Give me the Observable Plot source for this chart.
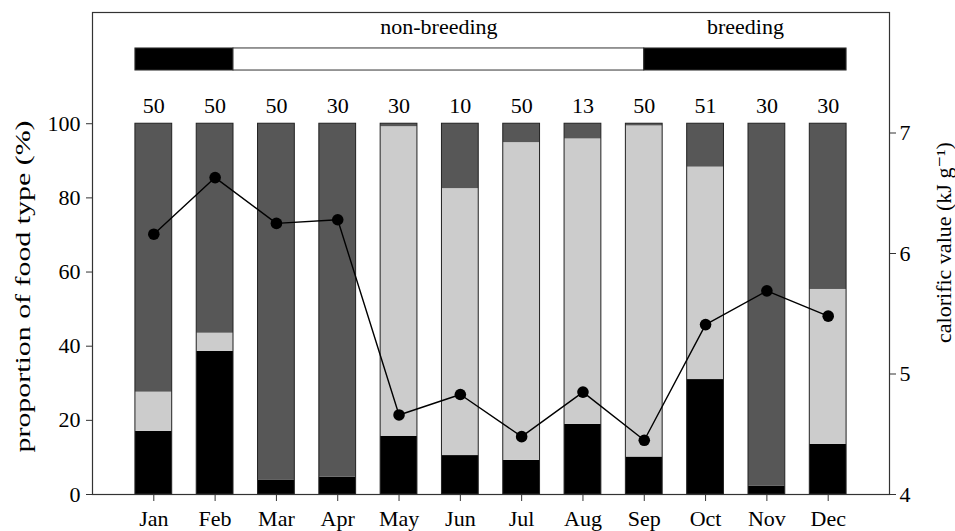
<!DOCTYPE html>
<html><head><meta charset="utf-8">
<script src="https://cdn.jsdelivr.net/npm/d3@7"></script>
<script src="https://cdn.jsdelivr.net/npm/@observablehq/plot@0.6"></script>
<style>
body{margin:0;background:#fff}
#chart svg, #chart svg text {font-family: "Liberation Serif", "DejaVu Serif", serif !important;}
#chart svg {font-size: 22px;}
</style>
</head><body><div id="chart"></div>
<script>
// ---- data ----
const months = ["Jan","Feb","Mar","Apr","May","Jun","Jul","Aug","Sep","Oct","Nov","Dec"];
const sampleSizes = [50, 50, 50, 30, 30, 10, 50, 13, 50, 51, 30, 30];
// proportion of food type (%) – three stacked categories
const blackShare = [17.0, 38.6, 3.8, 4.7, 15.7, 10.5, 9.2, 18.9, 10.1, 31.0, 2.2, 13.5];
const lightShare = [10.6, 4.9, 0.0, 0.0, 83.5, 72.0, 85.7, 77.0, 89.3, 57.3, 0.0, 41.8];
const darkShare  = [72.4, 56.5, 96.2, 95.3, 0.8, 17.5, 5.1, 4.1, 0.6, 11.7, 97.8, 44.7];
// calorific value (kJ g-1)
const calorific = [6.16, 6.63, 6.25, 6.28, 4.66, 4.83, 4.48, 4.85, 4.45, 5.41, 5.69, 5.48];
// season bar (month-index positions)
const seasonStart = [-0.3, 1.3, 8];
const seasonEnd   = [1.3, 8, 11.3];
const seasonName  = ["breeding", "non-breeding", "breeding"];
const seasonLabel = ["", "non-breeding", "breeding"];
const leftTicks = [0, 20, 40, 60, 80, 100];
const rightTicks = [4, 5, 6, 7];
const leftTitle = "proportion of food type (%)";
const rightTitle = "calorific value (kJ g\u207B\u00B9)";

// ---- build tables ----
const idx = d3.range(months.length);
const bars = idx.map(i => ({
  i,
  b0: 0, b1: blackShare[i],
  l0: blackShare[i], l1: blackShare[i] + lightShare[i],
  d0: blackShare[i] + lightShare[i], d1: blackShare[i] + lightShare[i] + darkShare[i],
  n: sampleSizes[i]
}));
const seasons = seasonStart.map((s, k) => ({s, e: seasonEnd[k], name: seasonName[k], label: seasonLabel[k]}));
const calRows = calorific.map((v, i) => ({i, v}));
const toLeft = v => (v - 4) * 130 / 4;   // right axis [4,8] -> left axis [0,130]
const hw = 0.3;

const chart = Plot.plot({
  width: 955, height: 531,
  marginLeft: 92, marginRight: 66, marginTop: 12, marginBottom: 37,
  style: {fontSize: "22px", color: "#000", background: "#fff"},
  x: {type: "linear", domain: [-1, 12]},
  y: {domain: [0, 130]},
  marks: [
    Plot.rectY(bars, {x1: d => d.i - hw, x2: d => d.i + hw, y1: "b0", y2: "b1", fill: "#000"}),
    Plot.rectY(bars, {x1: d => d.i - hw, x2: d => d.i + hw, y1: "l0", y2: "l1", fill: "#cccccc"}),
    Plot.rectY(bars, {x1: d => d.i - hw, x2: d => d.i + hw, y1: "d0", y2: "d1", fill: "#575757"}),
    Plot.rectY(bars, {x1: d => d.i - hw, x2: d => d.i + hw, y1: 0, y2: "d1", fill: "none", stroke: "#222", strokeWidth: 1}),
    Plot.text(bars, {x: "i", y: 102.8, text: d => String(d.n), lineAnchor: "bottom", fill: "#000"}),
    Plot.rectY(seasons, {x1: "s", x2: "e", y1: 114.35, y2: 120.3,
      fill: d => d.name === "breeding" ? "#000" : "#fff", stroke: "#333", strokeWidth: 1}),
    Plot.text(seasons, {x: d => (d.s + d.e) / 2, y: 124.1, text: "label", lineAnchor: "bottom", fill: "#000"}),
    Plot.line(calRows, {x: "i", y: d => toLeft(d.v), stroke: "#000", strokeWidth: 1.4}),
    Plot.dot(calRows, {x: "i", y: d => toLeft(d.v), r: 5.8, fill: "#000", stroke: "none"}),
    Plot.frame({stroke: "#333", strokeWidth: 1.2}),
    Plot.axisY({ticks: leftTicks, tickSize: 6, tickPadding: 6, label: null, stroke: "#333"}),
    Plot.axisY(rightTicks, {anchor: "right", y: toLeft, tickFormat: d => String(d), tickSize: 6, tickPadding: 4, label: null, stroke: "#333"}),
    Plot.axisX({ticks: idx, tickFormat: i => months[i], tickSize: 7, tickPadding: 9, label: null, stroke: "#333"}),
    Plot.text([leftTitle], {frameAnchor: "left", textAnchor: "middle", lineAnchor: "middle",
      dx: -70, dy: 33, rotate: -90, fill: "#000"}),
    Plot.text([rightTitle], {frameAnchor: "right", textAnchor: "middle", lineAnchor: "middle",
      dx: 54, dy: -11, rotate: -90, fill: "#000"})
  ]
});
// the reference's left axis title is stretched along its length
d3.select(chart).selectAll("text")
  .filter(function() { return this.textContent === leftTitle; })
  .attr("textLength", 332).attr("lengthAdjust", "spacingAndGlyphs");
document.getElementById("chart").appendChild(chart);
</script>
</body></html>
